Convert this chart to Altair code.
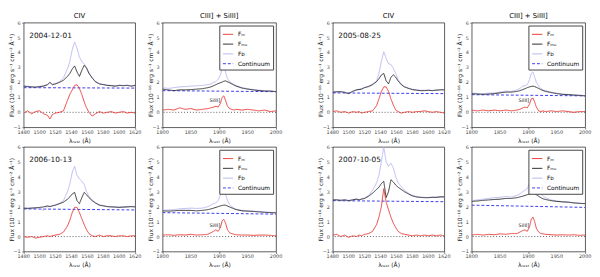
import altair as alt
import pandas as pd

DATES = ["2004-12-01", "2005-08-25", "2006-10-13", "2007-10-05"]
SERIES = ["Fₘ", "Fₘₒ", "Fᴅ", "Continuum"]
COLORS = ["#e8302a", "#262626", "#b4b4f2", "#3a3af0"]
DASHES = [[1, 0], [1, 0], [1, 0], [3, 2]]

CIV_DOMAIN = [1480, 1620]
CIV_TICKS = [1480, 1500, 1520, 1540, 1560, 1580, 1600, 1620]
CIII_DOMAIN = [1800, 2000]
CIII_TICKS = [1800, 1850, 1900, 1950, 2000]
Y_DOMAIN = [-1, 6]
Y_TICKS = [-1, 0, 1, 2, 3, 4, 5, 6]

W_CIV = [1480, 1485, 1490, 1495, 1500, 1505, 1510, 1513, 1516, 1520, 1525, 1530, 1535, 1538, 1541,
         1544, 1547, 1550, 1553, 1556, 1559, 1562, 1566, 1570, 1575, 1580, 1585, 1590, 1595, 1600,
         1605, 1610, 1615, 1620]
W_CIII = [1800, 1810, 1820, 1830, 1840, 1850, 1860, 1870, 1880, 1885, 1890, 1894, 1898, 1902, 1905,
          1908, 1911, 1914, 1918, 1922, 1926, 1930, 1940, 1950, 1960, 1970, 1980, 1990, 2000]

# 2004-12-01
civ_fmo_2004 = [1.75, 1.72, 1.70, 1.68, 1.72, 1.75, 1.85, 2.00, 1.85, 1.90, 2.00, 2.15, 2.40, 2.60, 2.90,
                3.10, 2.70, 2.40, 2.80, 3.15, 2.95, 2.60, 2.30, 2.05, 1.90, 1.85, 1.80, 1.78, 1.75, 1.80,
                1.78, 1.80, 1.75, 1.80]
civ_fd_2004 = [1.77, 1.74, 1.72, 1.70, 1.74, 1.77, 1.87, 2.02, 1.88, 1.93, 2.05, 2.30, 2.90, 3.40, 4.20,
               4.70, 4.30, 3.70, 3.40, 3.25, 3.00, 2.65, 2.32, 2.07, 1.92, 1.87, 1.82, 1.80, 1.77, 1.82,
               1.80, 1.82, 1.77, 1.82]
civ_fm_2004 = [-0.05, 0.10, -0.10, 0.05, 0.10, -0.10, -0.20, -0.45, -0.15, -0.05, 0.00, 0.10, 0.80, 1.20, 1.50,
               1.80, 1.85, 1.60, 1.20, 0.70, 0.30, 0.00, -0.25, -0.10, 0.05, -0.05, 0.00, 0.05, -0.05, 0.00,
               0.05, -0.05, 0.00, -0.05]
civ_cont_2004 = [1.65, 1.62]
ciii_fmo_2004 = [1.55, 1.50, 1.45, 1.50, 1.50, 1.52, 1.55, 1.58, 1.65, 1.70, 1.78, 1.85, 1.92, 1.98, 2.02,
                 2.08, 2.10, 2.05, 1.98, 1.90, 1.82, 1.75, 1.62, 1.55, 1.50, 1.45, 1.42, 1.42, 1.38]
ciii_fd_2004 = [1.65, 1.60, 1.65, 1.70, 1.72, 1.75, 1.78, 1.80, 1.85, 1.90, 2.00, 2.05, 2.20, 2.50, 2.95,
                3.10, 2.70, 2.30, 2.05, 1.95, 1.85, 1.78, 1.65, 1.58, 1.52, 1.48, 1.45, 1.43, 1.40]
ciii_fm_2004 = [0.15, 0.20, 0.15, 0.30, 0.20, 0.25, 0.15, 0.20, 0.25, 0.30, 0.35, 0.40, 0.35, 0.60, 1.00,
                1.10, 0.80, 0.45, 0.25, 0.20, 0.15, 0.20, 0.15, 0.20, 0.15, 0.10, 0.15, 0.05, 0.10]
ciii_cont_2004 = [1.45, 1.38]

# 2005-08-25
civ_fmo_2005 = [1.35, 1.37, 1.38, 1.33, 1.25, 1.40, 1.50, 1.52, 1.55, 1.65, 1.72, 1.85, 2.05, 2.25, 2.50,
                2.60, 2.10, 1.90, 2.35, 2.50, 2.35, 2.10, 1.85, 1.70, 1.60, 1.52, 1.48, 1.45, 1.45, 1.47,
                1.45, 1.48, 1.50, 1.50]
civ_fd_2005 = [1.37, 1.39, 1.40, 1.35, 1.27, 1.42, 1.52, 1.54, 1.57, 1.67, 1.75, 1.90, 2.10, 2.60, 3.40,
               4.05, 3.60, 3.25, 3.20, 2.95, 2.60, 2.20, 1.90, 1.72, 1.62, 1.54, 1.50, 1.47, 1.47, 1.49,
               1.47, 1.50, 1.52, 1.52]
civ_fm_2005 = [0.05, 0.10, 0.00, 0.05, -0.05, 0.05, 0.00, 0.05, -0.05, 0.00, 0.05, 0.10, 0.45, 0.90, 1.40,
               1.70, 1.70, 1.40, 0.90, 0.50, 0.15, 0.05, -0.05, 0.00, 0.05, 0.00, 0.05, 0.05, 0.10, 0.05,
               0.00, 0.05, 0.00, -0.05]
civ_cont_2005 = [1.30, 1.25]
ciii_fmo_2005 = [1.25, 1.22, 1.20, 1.22, 1.25, 1.30, 1.35, 1.35, 1.40, 1.45, 1.52, 1.58, 1.65, 1.70, 1.73,
                 1.75, 1.72, 1.67, 1.60, 1.52, 1.45, 1.40, 1.32, 1.25, 1.20, 1.18, 1.15, 1.13, 1.10]
ciii_fd_2005 = [1.30, 1.25, 1.25, 1.28, 1.30, 1.35, 1.42, 1.40, 1.50, 1.60, 1.75, 1.78, 1.85, 2.20, 2.60,
                2.70, 2.35, 2.00, 1.75, 1.60, 1.50, 1.45, 1.35, 1.28, 1.22, 1.20, 1.17, 1.15, 1.12]
ciii_fm_2005 = [0.15, 0.10, 0.15, 0.10, 0.15, 0.10, 0.15, 0.10, 0.15, 0.20, 0.30, 0.35, 0.30, 0.55, 0.90,
                0.95, 0.70, 0.35, 0.10, 0.05, 0.10, 0.05, 0.10, 0.05, 0.10, 0.05, 0.00, 0.05, 0.05]
ciii_cont_2005 = [1.18, 1.10]

# 2006-10-13
civ_fmo_2006 = [1.90, 1.88, 1.90, 1.92, 1.95, 1.98, 2.05, 2.00, 2.05, 2.10, 2.20, 2.30, 2.50, 2.65, 2.85,
                2.95, 2.40, 2.20, 2.60, 2.95, 2.80, 2.60, 2.40, 2.25, 2.10, 2.05, 2.00, 1.98, 1.97, 1.95,
                1.97, 1.98, 2.00, 1.98]
civ_fd_2006 = [1.92, 1.90, 1.92, 1.94, 1.90, 1.75, 2.00, 2.02, 2.07, 2.12, 2.22, 2.40, 3.00, 3.50, 4.30,
               4.70, 4.10, 3.85, 3.70, 3.50, 3.00, 2.70, 2.45, 2.27, 2.12, 2.07, 2.02, 2.00, 1.99, 1.97,
               1.99, 2.00, 2.02, 2.00]
civ_fm_2006 = [0.00, -0.05, 0.00, -0.10, -0.05, 0.00, 0.05, 0.00, 0.05, 0.10, 0.15, 0.30, 0.70, 1.10, 1.60,
               1.95, 1.95, 1.60, 1.20, 0.80, 0.45, 0.20, 0.05, 0.00, 0.10, 0.00, 0.05, 0.05, 0.00, 0.05,
               0.05, 0.00, 0.05, 0.05]
civ_cont_2006 = [1.85, 1.78]
ciii_fmo_2006 = [1.72, 1.70, 1.72, 1.75, 1.75, 1.75, 1.72, 1.75, 1.80, 1.85, 1.90, 1.95, 2.00, 2.05, 2.08,
                 2.10, 2.10, 2.05, 1.98, 1.92, 1.85, 1.80, 1.72, 1.70, 1.68, 1.65, 1.62, 1.60, 1.58]
ciii_fd_2006 = [1.75, 1.78, 1.80, 1.85, 1.88, 1.90, 1.88, 1.90, 2.00, 2.10, 2.20, 2.25, 2.40, 2.80, 3.10,
                3.20, 2.85, 2.45, 2.15, 2.00, 1.90, 1.82, 1.75, 1.72, 1.70, 1.67, 1.64, 1.62, 1.60]
ciii_fm_2006 = [0.10, 0.12, 0.08, 0.12, 0.10, 0.15, 0.10, 0.12, 0.15, 0.25, 0.35, 0.45, 0.35, 0.60, 1.05,
                1.15, 0.90, 0.50, 0.25, 0.20, 0.15, 0.12, 0.10, 0.10, 0.08, 0.10, 0.10, 0.08, 0.05]
ciii_cont_2006 = [1.60, 1.50]

# 2007-10-05
civ_fmo_2007 = [2.45, 2.45, 2.42, 2.45, 2.40, 2.45, 2.50, 2.45, 2.50, 2.55, 2.70, 2.90, 3.15, 3.30, 3.55,
                3.70, 2.60, 3.00, 3.80, 3.65, 3.45, 3.30, 3.15, 3.00, 2.85, 2.72, 2.65, 2.62, 2.60, 2.60,
                2.62, 2.62, 2.65, 2.65]
civ_fd_2007 = [2.47, 2.47, 2.44, 2.47, 2.42, 2.47, 2.52, 2.47, 2.52, 2.58, 2.75, 3.10, 3.60, 4.10, 5.00,
               6.00, 5.00, 4.70, 4.90, 4.60, 4.00, 3.60, 3.35, 3.10, 2.90, 2.75, 2.67, 2.64, 2.62, 2.62,
               2.64, 2.64, 2.67, 2.67]
civ_fm_2007 = [0.10, 0.15, 0.00, 0.10, -0.05, 0.05, 0.00, 0.10, 0.05, 0.15, 0.20, 0.35, 0.80, 1.30, 2.00,
               3.20, 2.30, 1.80, 1.30, 0.90, 0.60, 0.35, 0.20, 0.15, 0.10, 0.05, 0.10, 0.05, 0.10, 0.05,
               0.10, 0.05, 0.10, 0.05]
civ_cont_2007 = [2.40, 2.33]
ciii_fmo_2007 = [2.35, 2.38, 2.42, 2.45, 2.48, 2.50, 2.55, 2.55, 2.60, 2.65, 2.70, 2.75, 2.80, 2.85, 2.88,
                 2.90, 2.88, 2.80, 2.70, 2.60, 2.52, 2.48, 2.40, 2.35, 2.32, 2.30, 2.25, 2.22, 2.20]
ciii_fd_2007 = [2.40, 2.45, 2.50, 2.55, 2.60, 2.62, 2.68, 2.65, 2.75, 2.85, 3.00, 3.10, 3.20, 3.60, 4.05,
                4.20, 3.80, 3.35, 3.05, 2.85, 2.70, 2.60, 2.45, 2.38, 2.33, 2.30, 2.26, 2.23, 2.20]
ciii_fm_2007 = [0.10, 0.15, 0.10, 0.15, 0.12, 0.18, 0.15, 0.20, 0.20, 0.30, 0.40, 0.45, 0.35, 0.65, 1.15,
                1.30, 1.00, 0.55, 0.30, 0.20, 0.18, 0.15, 0.12, 0.10, 0.12, 0.10, 0.12, 0.08, 0.10]
ciii_cont_2007 = [2.10, 1.95]

FONT = "DejaVu Sans"
Y_TITLE = "Flux (10⁻¹⁶ erg s⁻¹ cm⁻² Å⁻¹)"
X_TITLE = "λᵣₑₛₜ (Å)"
H = 107


def panel(wl, fm, fmo, fd, cont, xdom, xticks, width, date=None, title=None, legend=False, si=False):
    rows = []
    for name, vals in ((SERIES[0], fm), (SERIES[1], fmo), (SERIES[2], fd)):
        rows += [{"wl": w, "flux": v, "series": name} for w, v in zip(wl, vals)]
    rows += [{"wl": xdom[0], "flux": cont[0], "series": SERIES[3]},
             {"wl": xdom[1], "flux": cont[1], "series": SERIES[3]}]
    df = pd.DataFrame(rows)

    common = dict(labels=False, tickSize=2, tickColor="#333", tickWidth=0.6, domain=False, grid=False,
                  titleFont=FONT, titleFontSize=6, titleFontWeight="normal", titleColor="#111")
    xscale = alt.Scale(domain=xdom, nice=False, zero=False)
    yscale = alt.Scale(domain=Y_DOMAIN, nice=False, zero=False)
    xaxis = alt.Axis(values=xticks, title=X_TITLE, titlePadding=8, **common)
    yaxis = alt.Axis(values=Y_TICKS, title=Y_TITLE, titlePadding=7, **common)

    def X(f):
        return alt.X(f, scale=xscale, axis=xaxis)

    def Y(f):
        return alt.Y(f, scale=yscale, axis=yaxis)

    leg = alt.Legend(title=None, orient="top-right", offset=3, fillColor="white",
                     strokeColor="#444", padding=3, labelFontSize=6, labelFont=FONT,
                     symbolType="stroke", symbolSize=110, symbolStrokeWidth=1,
                     rowPadding=1, labelOffset=4, cornerRadius=0) if legend else None
    color = alt.Color("series:N", scale=alt.Scale(domain=SERIES, range=COLORS), legend=leg)
    dash = alt.StrokeDash("series:N", scale=alt.Scale(domain=SERIES, range=DASHES), legend=leg)

    layers = []
    for name, sw in ((SERIES[3], 1.0), (SERIES[2], 0.9), (SERIES[1], 0.9), (SERIES[0], 0.9)):
        layers.append(
            alt.Chart(df).transform_filter(alt.datum.series == name)
            .mark_line(clip=True, strokeWidth=sw)
            .encode(x=X("wl:Q"), y=Y("flux:Q"), color=color, strokeDash=dash, order="wl:Q")
        )
    zero = alt.Chart(pd.DataFrame({"zero": [0]})).mark_rule(
        color="#333", strokeDash=[1, 2], strokeWidth=0.8).encode(y=Y("zero:Q"))
    layers.insert(1, zero)

    # tick labels
    layers.append(
        alt.Chart(pd.DataFrame({"t": xticks})).mark_text(
            baseline="top", align="center", fontSize=5, font=FONT, color="#444")
        .encode(x=X("t:Q"), y=alt.value(H + 3), text=alt.Text("t:Q", format="d"))
    )
    layers.append(
        alt.Chart(pd.DataFrame({"t": Y_TICKS})).mark_text(
            baseline="middle", align="right", fontSize=5, font=FONT, color="#444")
        .encode(y=Y("t:Q"), x=alt.value(-3), text=alt.Text("t:Q", format="d"))
    )
    if date:
        layers.append(
            alt.Chart(pd.DataFrame({"d": [date]})).mark_text(
                align="left", baseline="middle", fontSize=7.5, font=FONT, color="#111")
            .encode(x=alt.datum(xdom[0] + 7), y=alt.datum(5.1), text="d:N")
        )
    if si:
        layers.append(
            alt.Chart(pd.DataFrame({"d": ["SiIII]"]})).mark_text(
                align="center", baseline="middle", fontSize=5, font=FONT, color="#222")
            .encode(x=alt.datum(1892), y=alt.datum(0.8), text="d:N")
        )
    ch = alt.layer(*layers).properties(width=width, height=H)
    if title:
        ch = ch.properties(title=alt.TitleParams(title, fontSize=7, fontWeight="normal", font=FONT, offset=2))
    return ch


def res(c):
    return c.resolve_scale(color="independent", strokeDash="independent").resolve_legend(
        color="independent", strokeDash="independent")


def group(i, top):
    d = DATES[i]
    yr = d[:4]
    g = globals()
    p_civ = panel(W_CIV, g["civ_fm_" + yr], g["civ_fmo_" + yr], g["civ_fd_" + yr], g["civ_cont_" + yr],
                  CIV_DOMAIN, CIV_TICKS, 114, date=d, title="CIV" if top else None)
    p_ciii = panel(W_CIII, g["ciii_fm_" + yr], g["ciii_fmo_" + yr], g["ciii_fd_" + yr], g["ciii_cont_" + yr],
                   CIII_DOMAIN, CIII_TICKS, 116, title="CIII] + SiIII]" if top else None, legend=True, si=True)
    return res(alt.hconcat(p_civ, p_ciii, spacing=5))


row1 = res(alt.hconcat(group(0, True), group(1, True), spacing=35))
row2 = res(alt.hconcat(group(2, False), group(3, False), spacing=35))
chart = res(alt.vconcat(row1, row2, spacing=0)).properties(padding=0, background="white")

chart = chart.configure_view(stroke="#333", strokeWidth=0.8)

chart.save("out.html", embed_options={"renderer": "svg", "actions": False})
